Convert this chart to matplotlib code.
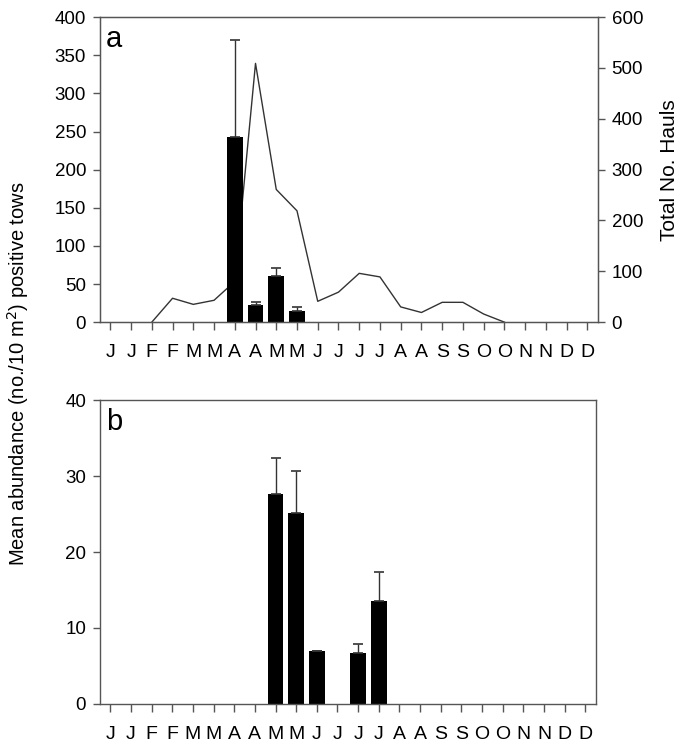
import numpy as np
import matplotlib
matplotlib.use("Agg")
import matplotlib.pyplot as plt

plt.rcParams['font.family'] = ['Liberation Sans', 'DejaVu Sans']

# half-month categories
months = ['J', 'J', 'F', 'F', 'M', 'M', 'A', 'A', 'M', 'M', 'J', 'J',
          'J', 'J', 'A', 'A', 'S', 'S', 'O', 'O', 'N', 'N', 'D', 'D']

# panel a: mean abundance (bars) + upper error, total hauls (line)
a_idx = [6, 7, 8, 9]
a_mean = [243, 23, 60, 15]
a_err = [127, 3, 11, 5]
hauls = [np.nan, np.nan, 0, 47, 35, 43, 80, 509, 261, 219, 41, 59,
         96, 89, 30, 19, 39, 39, 16, 0, np.nan, np.nan, np.nan, np.nan]

# panel b
b_idx = [8, 9, 10, 12, 13]
b_mean = [27.7, 25.1, 6.9, 6.7, 13.5]
b_err = [4.7, 5.6, 0.05, 1.2, 3.9]

dark = '#333333'
spine_c = '#555555'

fig = plt.figure(figsize=(6.8, 7.44), dpi=100)
ax1 = fig.add_axes([0.147, 0.567, 0.732, 0.410])
ax3 = fig.add_axes([0.147, 0.054, 0.729, 0.408])

x = np.arange(len(months))


def style(ax):
    for s in ax.spines.values():
        s.set_color(spine_c)
        s.set_linewidth(1.0)
    ax.tick_params(axis='x', direction='out', length=6, width=1, color=spine_c,
                   pad=10, labelsize=14)
    ax.tick_params(axis='y', direction='out', length=5, width=1, color=spine_c,
                   pad=5, labelsize=13.5)
    ax.set_xticks(x)
    ax.set_xticklabels(months)
    ax.set_xlim(-0.5, 23.5)


# panel a
ax2 = ax1.twinx()
ax2.plot(x, hauls, color=dark, lw=1.0)
ax2.set_ylim(0, 600)
ax2.set_yticks(range(0, 601, 100))
ax2.tick_params(axis='y', direction='out', length=5, width=1, color=spine_c,
                pad=5, labelsize=13.5)
for s in ax2.spines.values():
    s.set_color(spine_c)
ax2.set_ylabel('Total No. Hauls', fontsize=15, labelpad=12)

ax1.bar(a_idx, a_mean, width=0.75, color='black',
        yerr=[np.zeros(len(a_err)), a_err], ecolor=dark,
        error_kw=dict(capsize=3.5, elinewidth=1, capthick=1.2))
ax1.set_ylim(0, 400)
ax1.set_yticks(range(0, 401, 50))
style(ax1)
ax1.set_zorder(ax2.get_zorder() + 1)
ax1.patch.set_visible(False)
ax1.text(0.012, 0.975, 'a', transform=ax1.transAxes, fontsize=21,
         va='top', ha='left')

# panel b
ax3.bar(b_idx, b_mean, width=0.75, color='black',
        yerr=[np.zeros(len(b_err)), b_err], ecolor=dark,
        error_kw=dict(capsize=3.5, elinewidth=1, capthick=1.2))
ax3.set_ylim(0, 40)
ax3.set_yticks(range(0, 41, 10))
style(ax3)
ax3.text(0.012, 0.975, 'b', transform=ax3.transAxes, fontsize=21,
         va='top', ha='left')

fig.text(0.026, 0.498, 'Mean abundance (no./10 m$^2$) positive tows',
         rotation=90, va='center', ha='center', fontsize=14.5)

fig.savefig('out.png', dpi=100)
